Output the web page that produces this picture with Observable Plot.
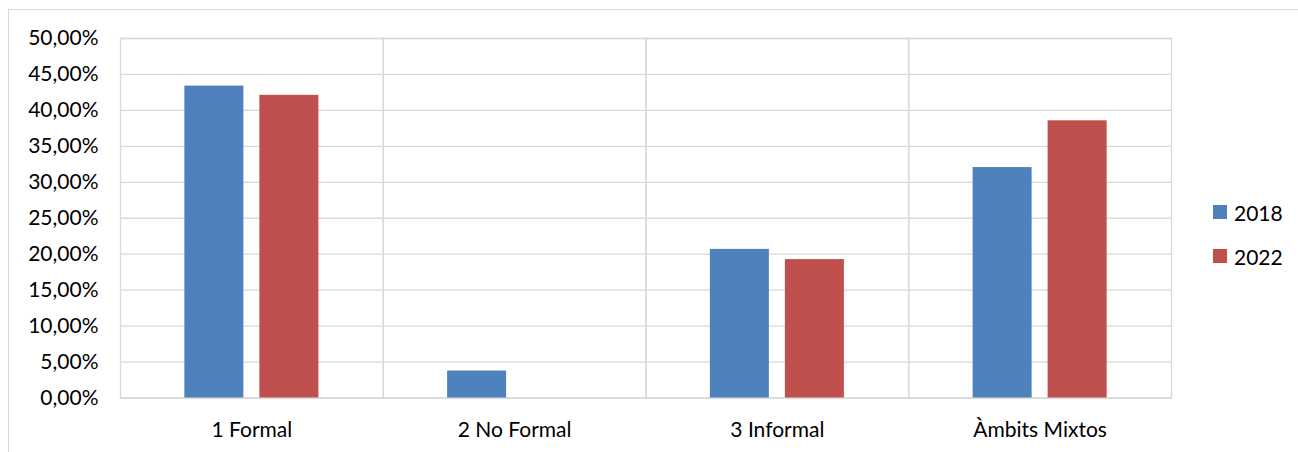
<!DOCTYPE html>
<html>
<head>
<meta charset="utf-8">
<script src="https://cdn.jsdelivr.net/npm/d3@7"></script>
<script src="https://cdn.jsdelivr.net/npm/@observablehq/plot@0.6"></script>
<style>
  html, body { margin: 0; padding: 0; background: #fff; }
  #wrap { position: relative; width: 1298px; height: 452px; overflow: hidden; font-family: Lato, "Open Sans", sans-serif; }
  #border { position: absolute; left: 8px; top: 9px; width: 1400px; height: 600px; border: 1.3px solid #D9D9D9; box-sizing: border-box; }
  #chart { position: absolute; left: 0; top: 0; }
  #legend { position: absolute; left: 1213px; top: 198px; font-size: 21px; color: #000; }
  .item { display: flex; align-items: center; height: 28px; margin-bottom: 16px; }
  .sw { width: 14px; height: 14px; margin-right: 7px; }
</style>
</head>
<body>
<div id="wrap">
  <div id="border"></div>
  <div id="chart"></div>
  <div id="legend"></div>
</div>
<script>
const categories = ["1 Formal", "2 No Formal", "3 Informal", "Àmbits Mixtos"];
const years = ["2018", "2022"];
const values2018 = [0.4338, 0.0375, 0.2067, 0.3205];
const values2022 = [0.4210, 0.0, 0.1925, 0.3855];
const colors = ["#4F81BD", "#C0504D"];
const yTicks = [0, 0.05, 0.10, 0.15, 0.20, 0.25, 0.30, 0.35, 0.40, 0.45, 0.50];

const data = [];
categories.forEach((c, i) => {
  data.push({category: c, year: years[0], value: values2018[i]});
  data.push({category: c, year: years[1], value: values2022[i]});
});

const fmt = d => (d * 100).toFixed(2).replace(".", ",") + "%";

const chart = Plot.plot({
  width: 1298,
  height: 452,
  marginLeft: 120,
  marginRight: 127,
  marginTop: 38,
  marginBottom: 54.5,
  style: {fontFamily: "Lato, 'Open Sans', sans-serif", fontSize: "21px", color: "#000", background: "transparent"},
  fx: {domain: categories, padding: 0, round: false, label: null, tickSize: 0, tickPadding: 24},
  x: {domain: years, paddingInner: 0.2133, paddingOuter: 0.858, round: false, axis: null},
  y: {domain: [0, 0.5], ticks: yTicks, tickFormat: fmt, label: null, tickSize: 0, tickPadding: 22},
  color: {domain: years, range: colors},
  marks: [
    Plot.ruleY(yTicks, {stroke: "#D9D9D9", strokeWidth: 1.3, strokeOpacity: 1}),
    Plot.frame({stroke: "#D9D9D9", strokeWidth: 1.3}),
    Plot.barY(data, {fx: "category", x: "year", y: "value", fill: "year"}),
    Plot.axisY({ticks: yTicks, tickFormat: fmt, tickSize: 0, tickPadding: 22, label: null})
  ]
});
document.getElementById("chart").appendChild(chart);

const legend = document.getElementById("legend");
years.forEach((y, i) => {
  const item = document.createElement("div");
  item.className = "item";
  const sw = document.createElement("div");
  sw.className = "sw";
  sw.style.background = colors[i];
  const t = document.createElement("span");
  t.textContent = y;
  item.appendChild(sw);
  item.appendChild(t);
  legend.appendChild(item);
});
</script>
</body>
</html>
